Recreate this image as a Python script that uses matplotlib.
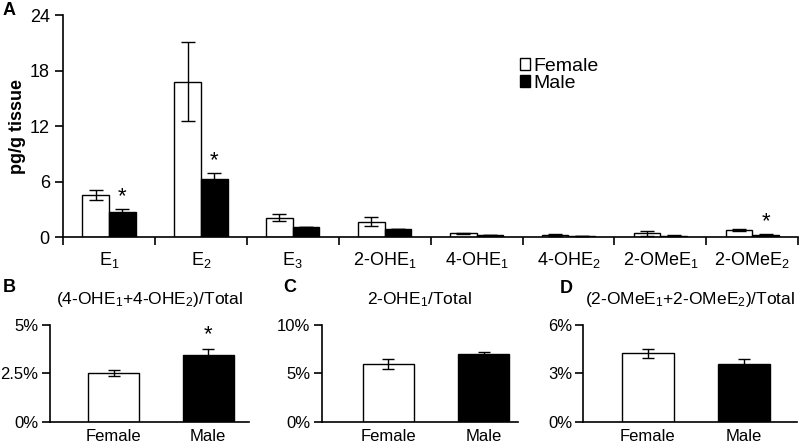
import numpy as np
import matplotlib.pyplot as plt
from matplotlib.patches import Patch
from matplotlib.ticker import FuncFormatter

plt.rcParams['font.family'] = ['Liberation Sans', 'DejaVu Sans']
plt.rcParams['mathtext.fontset'] = 'custom'
plt.rcParams['mathtext.rm'] = 'Liberation Sans'
plt.rcParams['mathtext.it'] = 'Liberation Sans'
plt.rcParams['mathtext.default'] = 'regular'

# painel A: pg/g tissue
compostos = [r'E$_1$', r'E$_2$', r'E$_3$', r'2-OHE$_1$', r'4-OHE$_1$',
             r'4-OHE$_2$', r'2-OMeE$_1$', r'2-OMeE$_2$']
femea = [4.55, 16.8, 2.1, 1.65, 0.4, 0.25, 0.4, 0.75]
femea_err = [0.55, 4.3, 0.42, 0.5, 0.08, 0.12, 0.28, 0.1]
macho = [2.65, 6.25, 1.1, 0.82, 0.2, 0.08, 0.16, 0.25]
macho_err = [0.38, 0.7, 0.0, 0.0, 0.02, 0.02, 0.04, 0.05]
sig_A = [0, 1, 7]

# paineis B, C, D (% do total)
grupos = ['Female', 'Male']
razao_B = [2.53, 3.45]
razao_B_err = [0.14, 0.3]
razao_C = [6.0, 7.0]
razao_C_err = [0.5, 0.25]
razao_D = [4.24, 3.56]
razao_D_err = [0.31, 0.33]

fig = plt.figure(figsize=(8, 4.43), dpi=100)

##########################################
axA = fig.add_axes([0.0788, 0.465, 0.919, 0.501])
x = np.arange(len(compostos))
w = 0.29
ek = dict(elinewidth=1, capthick=1, ecolor='black')
axA.bar(x - w/2, femea, w, yerr=femea_err, color='white', edgecolor='black',
        lw=1, capsize=5, error_kw=ek, label='Female')
axA.bar(x + w/2, macho, w, yerr=macho_err, color='black', edgecolor='black',
        lw=1, capsize=5, error_kw=ek, label='Male')
for i in sig_A:
    axA.text(x[i] + w/2, macho[i] + macho_err[i] + 0.2, '*', ha='center',
             va='bottom', fontsize=16)
axA.set_xlim(-0.5, 7.5)
axA.set_ylim(0, 24)
axA.set_yticks([0, 6, 12, 18, 24])
axA.set_xticks(x)
axA.set_xticklabels(compostos)
axA.set_xticks(np.arange(-0.5, 8, 1), minor=True)
axA.tick_params(axis='x', which='major', length=0, pad=9, labelsize=13)
axA.tick_params(axis='x', which='minor', length=6, width=1.2)
axA.tick_params(axis='y', length=6, width=1.2, labelsize=13)
axA.set_ylabel('pg/g tissue', fontweight='bold', fontsize=13, labelpad=3)
for s in ['top', 'right']:
    axA.spines[s].set_visible(False)
for s in ['left', 'bottom']:
    axA.spines[s].set_linewidth(1.2)
axA.legend(handles=[Patch(facecolor='white', edgecolor='black', label='Female'),
                    Patch(facecolor='black', edgecolor='black', label='Male')],
           loc='upper left', bbox_to_anchor=(510/800, 1 - 48/443),
           bbox_transform=fig.transFigure, frameon=False, fontsize=14,
           handlelength=0.55, handleheight=0.55, handletextpad=0.15,
           labelspacing=0.0, borderpad=0)


def painel(pos, vals, errs, ylim, yticks, xlim, titulo, sig=False):
    ax = fig.add_axes(pos)
    ax.bar([0, 1], vals, 0.54, yerr=errs, color=['white', 'black'],
           edgecolor='black', lw=1, capsize=4, error_kw=ek)
    if sig:
        ax.text(1, vals[1] + errs[1] + ylim * 0.04, '*', ha='center',
                va='bottom', fontsize=16)
    ax.set_ylim(0, ylim)
    ax.set_xlim(*xlim)
    ax.set_yticks(yticks)
    ax.yaxis.set_major_formatter(FuncFormatter(lambda v, p: '{:g}%'.format(v)))
    ax.set_xticks([0, 1])
    ax.set_xticklabels(grupos)
    ax.tick_params(axis='x', length=0, pad=5, labelsize=12)
    ax.tick_params(axis='y', length=6, width=1.2, pad=2, labelsize=12)
    for s in ['top', 'right']:
        ax.spines[s].set_visible(False)
    for s in ['left', 'bottom']:
        ax.spines[s].set_linewidth(1.2)
    ax.set_title(titulo, fontsize=12.5, pad=15)
    return ax


painel([0.062, 0.048, 0.249, 0.218], razao_B, razao_B_err, 5, [0, 2.5, 5],
       (-0.68, 1.43), r'(4-OHE$_1$+4-OHE$_2$)/Total', sig=True)
painel([0.402, 0.048, 0.2455, 0.218], razao_C, razao_C_err, 10, [0, 5, 10],
       (-0.70, 1.36), r'2-OHE$_1$/Total')
painel([0.729, 0.048, 0.267, 0.218], razao_D, razao_D_err, 6, [0, 3, 6],
       (-0.67, 1.55), r'(2-OMeE$_1$+2-OMeE$_2$)/Total')

for letra, px, py in [('A', 3, 2), ('B', 3, 279), ('C', 283, 279), ('D', 560, 280)]:
    fig.text(px/800, 1 - py/443, letra, fontweight='bold', fontsize=13,
             ha='left', va='top')

plt.savefig('out.png', dpi=100)
